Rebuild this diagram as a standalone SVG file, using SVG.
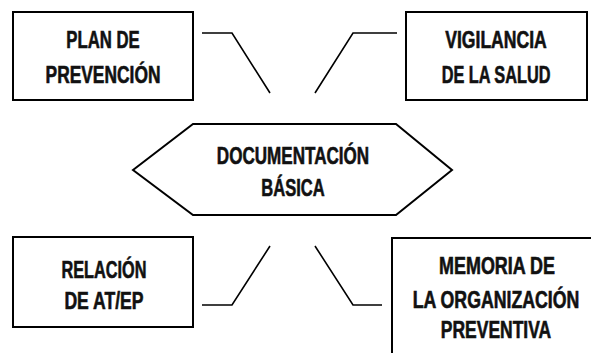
<svg xmlns="http://www.w3.org/2000/svg" width="591" height="353" viewBox="0 0 591 353">
<style>
.box{fill:#fff;stroke:#000;stroke-width:2}
.ln{fill:none;stroke:#000;stroke-width:1.6}
.t{font-family:"Liberation Sans",Arial,sans-serif;font-weight:bold;font-size:23px;fill:#111;stroke:#111;stroke-width:0.6;text-anchor:middle}
</style>
<rect width="591" height="353" fill="#fff"/>
<g id="connectors">
<polyline class="ln" points="202,33 232,33 270,93"/>
<polyline class="ln" points="397,33 353,33 315,93"/>
<polyline class="ln" points="270,246 232,305 202,305"/>
<polyline class="ln" points="315,246 353,305 382,305"/>
</g>
<g id="plan">
<rect class="box" x="13" y="12" width="180" height="88"/>
<text class="t" transform="translate(103,48) scale(0.727,1)">PLAN DE</text>
<text class="t" transform="translate(103,83) scale(0.756,1)">PREVENCIÓN</text>
</g>
<g id="vigilancia">
<rect class="box" x="406" y="12" width="181" height="88"/>
<text class="t" transform="translate(496,48) scale(0.765,1)">VIGILANCIA</text>
<text class="t" transform="translate(496,83) scale(0.708,1)">DE LA SALUD</text>
</g>
<g id="documentacion">
<polygon class="box" points="133,170 193,124 396,124 452,170 396,215 193,215"/>
<text class="t" transform="translate(293,164) scale(0.742,1)">DOCUMENTACIÓN</text>
<text class="t" transform="translate(293,196) scale(0.718,1)">BÁSICA</text>
</g>
<g id="relacion">
<rect class="box" x="13" y="237" width="180" height="90"/>
<text class="t" transform="translate(104,278) scale(0.708,1)">RELACIÓN</text>
<text class="t" transform="translate(104,309) scale(0.765,1)">DE AT/EP</text>
</g>
<g id="memoria">
<path class="box" fill="none" d="M392,353 V238 H591"/>
<text class="t" transform="translate(497,274) scale(0.78,1)">MEMORIA DE</text>
<text class="t" transform="translate(496,308) scale(0.77,1)">LA ORGANIZACIÓN</text>
<text class="t" transform="translate(496,338) scale(0.76,1)">PREVENTIVA</text>
</g>
</svg>
